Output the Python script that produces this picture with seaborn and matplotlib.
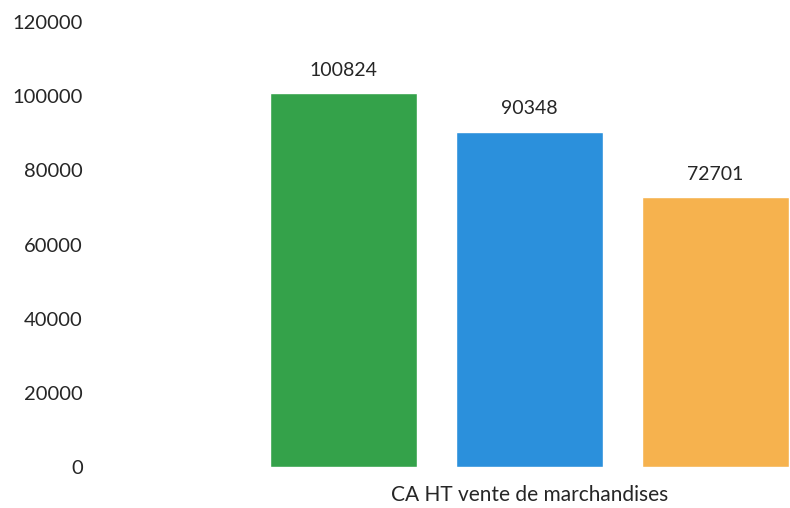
import matplotlib
matplotlib.use("Agg")
import matplotlib.pyplot as plt
import seaborn as sns
import pandas as pd

categories = ["CA HT vente de marchandises"]
series = ["Série 1", "Série 2", "Série 3"]
values = [100824, 90348, 72701]
colors = ["#34A24A", "#2B90DC", "#F6B24E"]
yticks = [0, 20000, 40000, 60000, 80000, 100000, 120000]

df = pd.DataFrame({
    "categorie": categories * len(series),
    "serie": series,
    "valeur": values,
})

sns.set_theme(style="white")
plt.rcParams["font.family"] = ["Lato", "DejaVu Sans"]

fig = plt.figure(figsize=(7.90, 5.08), dpi=100)
ax = fig.add_axes([100 / 790, 41 / 508, 690 / 790, 445 / 508])

sns.barplot(data=df, x="categorie", y="valeur", hue="serie",
            palette=colors, width=0.9, gap=0.21, saturation=1,
            legend=False, ax=ax)

for cont in ax.containers:
    ax.bar_label(cont, fmt="%d", padding=10.5, fontsize=14, color="#262626")

ax.set_ylim(0, 120000)
ax.set_yticks(yticks)
ax.set_yticklabels([str(t) for t in yticks], fontsize=14.5, color="#262626")
ax.set_xlim(-0.692, 0.42)
ax.tick_params(axis="both", length=0)
ax.tick_params(axis="y", pad=12.5)
ax.tick_params(axis="x", pad=13, labelsize=15, labelcolor="#262626")
ax.set_xlabel("")
ax.set_ylabel("")
for s in ax.spines.values():
    s.set_visible(False)

fig.savefig("out.png", dpi=100)
